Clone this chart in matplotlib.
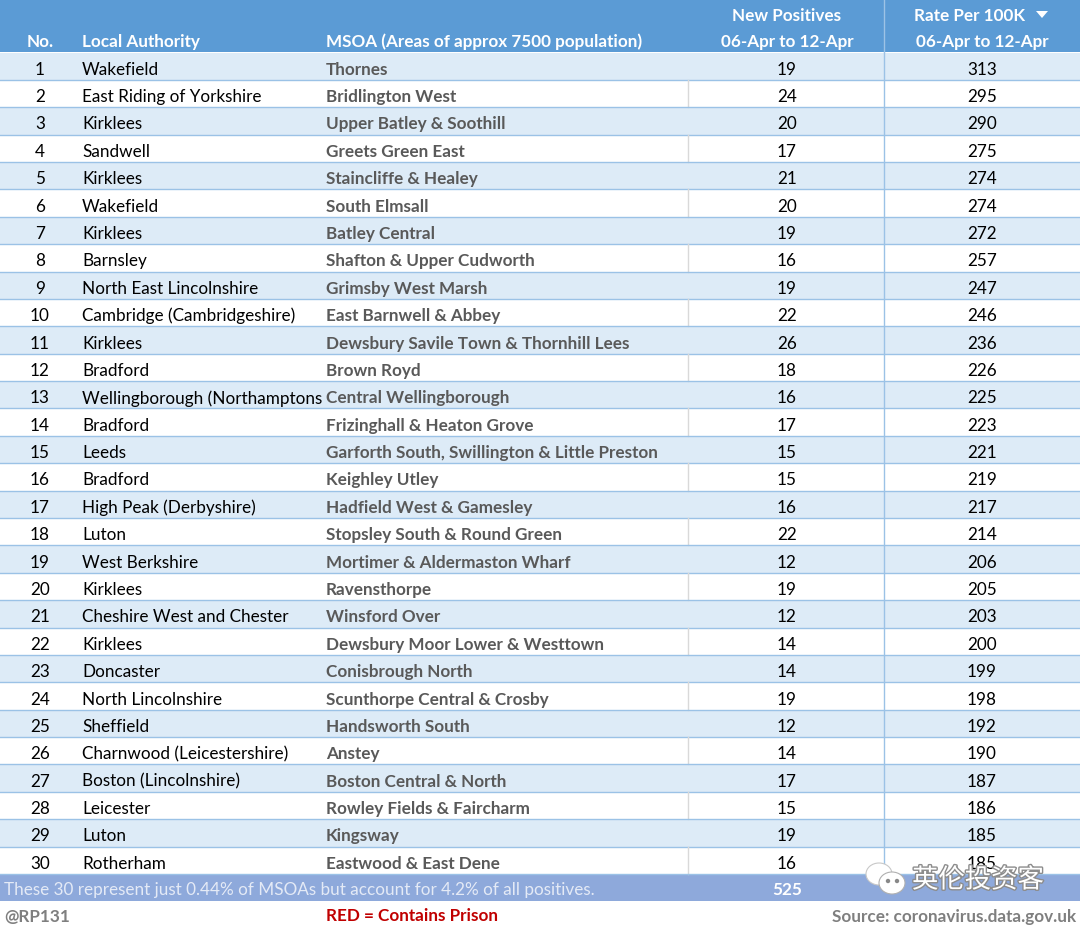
import matplotlib
matplotlib.use("Agg")
import matplotlib.pyplot as plt
from matplotlib.patches import Rectangle, Ellipse, Circle, Polygon
import matplotlib.patheffects as pe

ranks = list(range(1, 31))
authorities = ["Wakefield", "East Riding of Yorkshire", "Kirklees", "Sandwell", "Kirklees",
               "Wakefield", "Kirklees", "Barnsley", "North East Lincolnshire",
               "Cambridge (Cambridgeshire)", "Kirklees", "Bradford",
               "Wellingborough (Northamptons", "Bradford", "Leeds", "Bradford",
               "High Peak (Derbyshire)", "Luton", "West Berkshire", "Kirklees",
               "Cheshire West and Chester", "Kirklees", "Doncaster", "North Lincolnshire",
               "Sheffield", "Charnwood (Leicestershire)", "Boston (Lincolnshire)",
               "Leicester", "Luton", "Rotherham"]
msoas = ["Thornes", "Bridlington West", "Upper Batley & Soothill", "Greets Green East",
         "Staincliffe & Healey", "South Elmsall", "Batley Central",
         "Shafton & Upper Cudworth", "Grimsby West Marsh", "East Barnwell & Abbey",
         "Dewsbury Savile Town & Thornhill Lees", "Brown Royd", "Central Wellingborough",
         "Frizinghall & Heaton Grove", "Garforth South, Swillington & Little Preston",
         "Keighley Utley", "Hadfield West & Gamesley", "Stopsley South & Round Green",
         "Mortimer & Aldermaston Wharf", "Ravensthorpe", "Winsford Over",
         "Dewsbury Moor Lower & Westtown", "Conisbrough North", "Scunthorpe Central & Crosby",
         "Handsworth South", "Anstey", "Boston Central & North", "Rowley Fields & Faircharm",
         "Kingsway", "Eastwood & East Dene"]
new_positives = [19, 24, 20, 17, 21, 20, 19, 16, 19, 22, 26, 18, 16, 17, 15, 15, 16, 22,
                 12, 19, 12, 14, 14, 19, 12, 14, 17, 15, 19, 16]
rates = [313, 295, 290, 275, 274, 274, 272, 257, 247, 246, 236, 226, 225, 223, 221, 219,
         217, 214, 206, 205, 203, 200, 199, 198, 192, 190, 187, 186, 185, 185]
headers = ["No.", "Local Authority", "MSOA (Areas of approx 7500 population)",
           "New Positives", "06-Apr to 12-Apr", "Rate Per 100K", "06-Apr to 12-Apr"]
summary_text = "These 30 represent just 0.44% of MSOAs but account for 4.2% of all positives."
total_positives = 525
handle = "@RP131"
legend_note = "RED = Contains Prison"
source = "Source: coronavirus.data.gov.uk"
watermark = "英伦投资客"

W, H = 1080, 929
fig = plt.figure(figsize=(W / 100, H / 100), dpi=100)
ax = fig.add_axes([0, 0, 1, 1])
ax.set_xlim(0, W)
ax.set_ylim(H, 0)
ax.axis("off")

FONT = ["Lato", "DejaVu Sans"]
fs = 12.3
header_blue = "#5B9BD5"
band_blue = "#DDEBF7"
line_blue = "#9BC2E6"
summary_blue = "#8EA9DB"

# header
ax.add_patch(Rectangle((0, 0), W, 53, color=header_blue, lw=0))
ax.plot([884, 884], [0, 53], color="#9DC3E6", lw=1)
hy1, hy2 = 15.5, 41.5
ax.text(40, hy2, headers[0], ha="center", va="center", color="white", fontsize=fs, fontweight="bold", family=FONT)
ax.text(82, hy2, headers[1], ha="left", va="center", color="white", fontsize=fs, fontweight="bold", family=FONT)
ax.text(326, hy2, headers[2], ha="left", va="center", color="white", fontsize=fs, fontweight="bold", family=FONT)
ax.text(787, hy1, headers[3], ha="center", va="center", color="white", fontsize=fs, fontweight="bold", family=FONT)
ax.text(787, hy2, headers[4], ha="center", va="center", color="white", fontsize=fs, fontweight="bold", family=FONT)
ax.text(970, hy1, headers[5], ha="center", va="center", color="white", fontsize=fs, fontweight="bold", family=FONT)
ax.add_patch(Polygon([[1036, 12], [1048, 12], [1042, 19]], closed=True, color="white", lw=0))
ax.text(982, hy2, headers[6], ha="center", va="center", color="white", fontsize=fs, fontweight="bold", family=FONT)

top = 53.5
rh = (875 - top) / 30
for i in range(30):
    y0 = top + i * rh
    yc = y0 + rh / 2 + 2.5
    if i % 2 == 0:
        ax.add_patch(Rectangle((0, y0), W, rh, color=band_blue, lw=0))
    else:
        ax.plot([688, 688], [y0, y0 + rh], color="#D9D9D9", lw=1)
    ax.plot([0, W], [y0 + rh, y0 + rh], color=line_blue, lw=1)
    ax.text(40, yc, str(ranks[i]), ha="center", va="center", color="black", fontsize=fs, family=FONT)
    ax.text(82, yc, authorities[i], ha="left", va="center", color="black", fontsize=fs, family=FONT)
    ax.text(326, yc, msoas[i], ha="left", va="center", color="#595959", fontsize=fs, fontweight="bold", family=FONT)
    ax.text(787, yc, str(new_positives[i]), ha="center", va="center", color="black", fontsize=fs, family=FONT)
    ax.text(982, yc, str(rates[i]), ha="center", va="center", color="black", fontsize=fs, family=FONT)
ax.plot([884, 884], [top, 875], color=line_blue, lw=1)

# summary bar
ax.add_patch(Rectangle((0, 875), W, 27, color=summary_blue, lw=0))
ax.text(4, 890.5, summary_text, ha="left", va="center", color="#E4EAF6", fontsize=fs, family=FONT)
ax.text(787, 890.5, str(total_positives), ha="center", va="center", color="white", fontsize=fs, fontweight="bold", family=FONT)

# footer
ax.text(4, 917, handle, ha="left", va="center", color="#7F7F7F", fontsize=fs, fontweight="bold", family=FONT)
ax.text(326, 916, legend_note, ha="left", va="center", color="#C00000", fontsize=fs, fontweight="bold", family=FONT)
ax.text(1076, 917, source, ha="right", va="center", color="#7F7F7F", fontsize=fs, fontweight="bold", family=FONT)

# watermark
ax.add_patch(Ellipse((879, 875), 26, 22, facecolor="white", edgecolor="#C8C8C8", lw=0.8, zorder=5))
ax.add_patch(Ellipse((892, 884), 26, 22, facecolor="white", edgecolor="#B0B0B0", lw=0.8, zorder=6))
ax.add_patch(Circle((888, 882), 1.5, color="#888888", zorder=7))
ax.add_patch(Circle((897, 882), 1.5, color="#888888", zorder=7))
ax.text(912, 881, watermark, ha="left", va="center", color="white", fontsize=19,
        family=["Noto Sans CJK SC", "DejaVu Sans"], zorder=8,
        path_effects=[pe.withStroke(linewidth=2, foreground="#8C8C8C")])

fig.savefig("out.png", dpi=100)
